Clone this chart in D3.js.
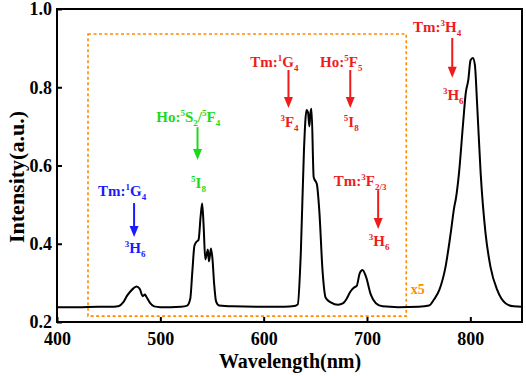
<!DOCTYPE html>
<html>
<head>
<meta charset="utf-8">
<script src="https://cdn.jsdelivr.net/npm/d3@7"></script>
<style>
  body { margin: 0; background: #fff; }
  svg text { font-family: "Times New Roman", "Liberation Serif", serif; font-weight: bold; }
</style>
</head>
<body>
<svg id="chart" width="526" height="376"></svg>
<script>
// emission spectrum
const wavelength = [
  400, 420, 440, 455, 460, 464, 468, 471, 474, 477, 480, 483, 485, 487, 490, 494,
  500, 510, 520, 526, 529, 531, 533, 535, 537, 539, 540.5, 542, 543.5, 545, 546,
  547, 548, 549, 550.5, 552, 554, 557, 570, 600, 620, 630, 633, 636, 639, 641.5,
  643, 644.2, 645.3, 646.3, 648.4, 651.5, 653.9, 657, 660, 665, 672, 677, 680,
  684, 688, 690, 693, 695.7, 699, 703.7, 708.6, 715, 730, 750, 760, 765, 770,
  776, 781, 784.5, 786, 789, 793, 795.5, 798, 800.2, 802.5, 804.4, 806.7, 810,
  814.7, 819.5, 826, 834, 842, 850
];
const intensity = [
  0.238, 0.238, 0.239, 0.239, 0.241, 0.250, 0.268, 0.278, 0.286, 0.291, 0.285, 0.266, 0.270, 0.262, 0.249, 0.240,
  0.238, 0.238, 0.239, 0.242, 0.260, 0.330, 0.395, 0.405, 0.410, 0.470, 0.503, 0.440, 0.360, 0.375, 0.385,
  0.355, 0.370, 0.388, 0.360, 0.300, 0.252, 0.242, 0.240, 0.239, 0.239, 0.241, 0.245, 0.380, 0.640, 0.742,
  0.735, 0.700, 0.735, 0.745, 0.570, 0.552, 0.482, 0.330, 0.262, 0.250, 0.244, 0.248, 0.258,
  0.278, 0.289, 0.292, 0.325, 0.333, 0.316, 0.270, 0.248, 0.240, 0.238, 0.239, 0.242, 0.258, 0.282,
  0.341, 0.427, 0.495, 0.515, 0.580, 0.708, 0.784, 0.818, 0.869, 0.875, 0.857, 0.750, 0.580,
  0.427, 0.341, 0.282, 0.248, 0.240, 0.239
];

const xTicks = [400, 500, 600, 700, 800];
const yTicks = [0.2, 0.4, 0.6, 0.8, 1.0];

// dashed "x5" region (nm / intensity)
const boxNm = [430, 738];
const boxInt = [0.215, 0.936];

// transitions: top label, arrow and lower label
const transitions = [
  { color: "#1a1aff", top: [["Tm:", 0], ["1", 1], ["G", 0], ["4", -1]], topNm: 463, topY: 0.522,
    nm: 474.6, arrow: [0.504, 0.417], bottom: [["3", 1], ["H", 0], ["6", -1]], bottomY: 0.376 },
  { color: "#1ed81e", top: [["Ho:", 0], ["5", 1], ["S", 0], ["2", -1], ["/", 0], ["5", 1], ["F", 0], ["4", -1]], topNm: 527, topY: 0.711,
    nm: 536, arrow: [0.698, 0.614], bottom: [["5", 1], ["I", 0], ["8", -1]], bottomY: 0.542 },
  { color: "#ee1c1c", top: [["Tm:", 0], ["1", 1], ["G", 0], ["4", -1]], topNm: 610.4, topY: 0.852,
    nm: 624, arrow: [0.844, 0.747], bottom: [["3", 1], ["F", 0], ["4", -1]], bottomY: 0.698 },
  { color: "#ee1c1c", top: [["Ho:", 0], ["5", 1], ["F", 0], ["5", -1]], topNm: 675.1, topY: 0.852,
    nm: 683.8, arrow: [0.844, 0.747], bottom: [["5", 1], ["I", 0], ["8", -1]], bottomY: 0.698 },
  { color: "#ee1c1c", top: [["Tm:", 0], ["3", 1], ["F", 0], ["2/3", -1]], topNm: 693.4, topY: 0.548,
    nm: 710.8, arrow: [0.537, 0.438], bottom: [["3", 1], ["H", 0], ["6", -1]], bottomY: 0.394 },
  { color: "#ee1c1c", top: [["Tm:", 0], ["3", 1], ["H", 0], ["4", -1]], topNm: 767.8, topY: 0.941,
    nm: 782.5, arrow: [0.926, 0.824], bottom: [["3", 1], ["H", 0], ["6", -1]], bottomY: 0.767 }
];

const svg = d3.select("#chart");
const plotLeft = 57, plotRight = 522, plotTop = 9, plotBottom = 322;

const x = d3.scaleLinear().domain([400, 850]).range([plotLeft, plotRight]);
const y = d3.scaleLinear().domain([0.2, 1.0]).range([plotBottom, plotTop]);

const data = wavelength.map((w, i) => ({ w, v: intensity[i] }));

// dashed zoom box
svg.append("rect")
  .attr("x", x(boxNm[0]))
  .attr("y", y(boxInt[1]))
  .attr("width", x(boxNm[1]) - x(boxNm[0]))
  .attr("height", y(boxInt[0]) - y(boxInt[1]))
  .attr("fill", "none")
  .attr("stroke", "#ff8c00")
  .attr("stroke-width", 1.6)
  .attr("stroke-dasharray", "3,2.5");

svg.append("text")
  .attr("x", x(742.4))
  .attr("y", y(0.2716))
  .attr("fill", "#ff8c00")
  .style("font-size", "14px")
  .text("x5");

// spectrum
const line = d3.line()
  .curve(d3.curveMonotoneX)
  .x((d) => x(d.w))
  .y((d) => y(d.v));

svg.append("path")
  .datum(data)
  .attr("d", line)
  .attr("fill", "none")
  .attr("stroke", "#000")
  .attr("stroke-width", 2)
  .attr("stroke-linejoin", "round");

// axes (inward ticks)
const gx = svg.append("g")
  .attr("transform", `translate(0,${plotBottom})`)
  .call(d3.axisBottom(x).tickValues(xTicks).tickSize(-5).tickPadding(10).tickFormat(d3.format("d")));
const gy = svg.append("g")
  .attr("transform", `translate(${plotLeft},0)`)
  .call(d3.axisLeft(y).tickValues(yTicks).tickSize(-5).tickPadding(5).tickFormat(d3.format(".1f")));

[gx, gy].forEach((g) => {
  g.select(".domain").remove();
  g.selectAll(".tick line").attr("stroke", "#000").attr("stroke-width", 2);
  g.selectAll(".tick text")
    .attr("fill", "#000")
    .style("font-family", '"Times New Roman", "Liberation Serif", serif')
    .style("font-weight", "bold")
    .style("font-size", "18px");
});

// frame
svg.append("rect")
  .attr("x", plotLeft)
  .attr("y", plotTop)
  .attr("width", plotRight - plotLeft)
  .attr("height", plotBottom - plotTop)
  .attr("fill", "none")
  .attr("stroke", "#000")
  .attr("stroke-width", 2);

// axis titles
svg.append("text")
  .attr("x", 290)
  .attr("y", 368)
  .attr("text-anchor", "middle")
  .style("font-size", "20px")
  .text("Wavelength(nm)");

svg.append("text")
  .attr("transform", "translate(24,177) rotate(-90)")
  .attr("text-anchor", "middle")
  .style("font-size", "22px")
  .text("Intensity(a.u.)");

// annotations
function richText(g, parts, cx, cy, color) {
  const t = g.append("text")
    .attr("x", cx)
    .attr("y", cy)
    .attr("text-anchor", "middle")
    .attr("fill", color)
    .style("font-size", "15px");
  let shift = 0;
  parts.forEach(([s, kind]) => {
    const target = kind === 1 ? -6 : kind === -1 ? 4 : 0;
    t.append("tspan")
      .attr("dy", target - shift)
      .style("font-size", kind === 0 ? "15px" : "9px")
      .text(s);
    shift = target;
  });
  return t;
}

const ann = svg.append("g");
transitions.forEach((d) => {
  const g = ann.append("g");
  richText(g, d.top, x(d.topNm), y(d.topY), d.color);
  const ax = x(d.nm);
  const y0 = y(d.arrow[0]), y1 = y(d.arrow[1]);
  g.append("line")
    .attr("x1", ax).attr("x2", ax)
    .attr("y1", y0).attr("y2", y1 - 9)
    .attr("stroke", d.color)
    .attr("stroke-width", 2);
  g.append("path")
    .attr("d", `M${ax - 4.5},${y1 - 11}L${ax + 4.5},${y1 - 11}L${ax},${y1}Z`)
    .attr("fill", d.color);
  richText(g, d.bottom, ax + 1, y(d.bottomY), d.color);
});
</script>
</body>
</html>
